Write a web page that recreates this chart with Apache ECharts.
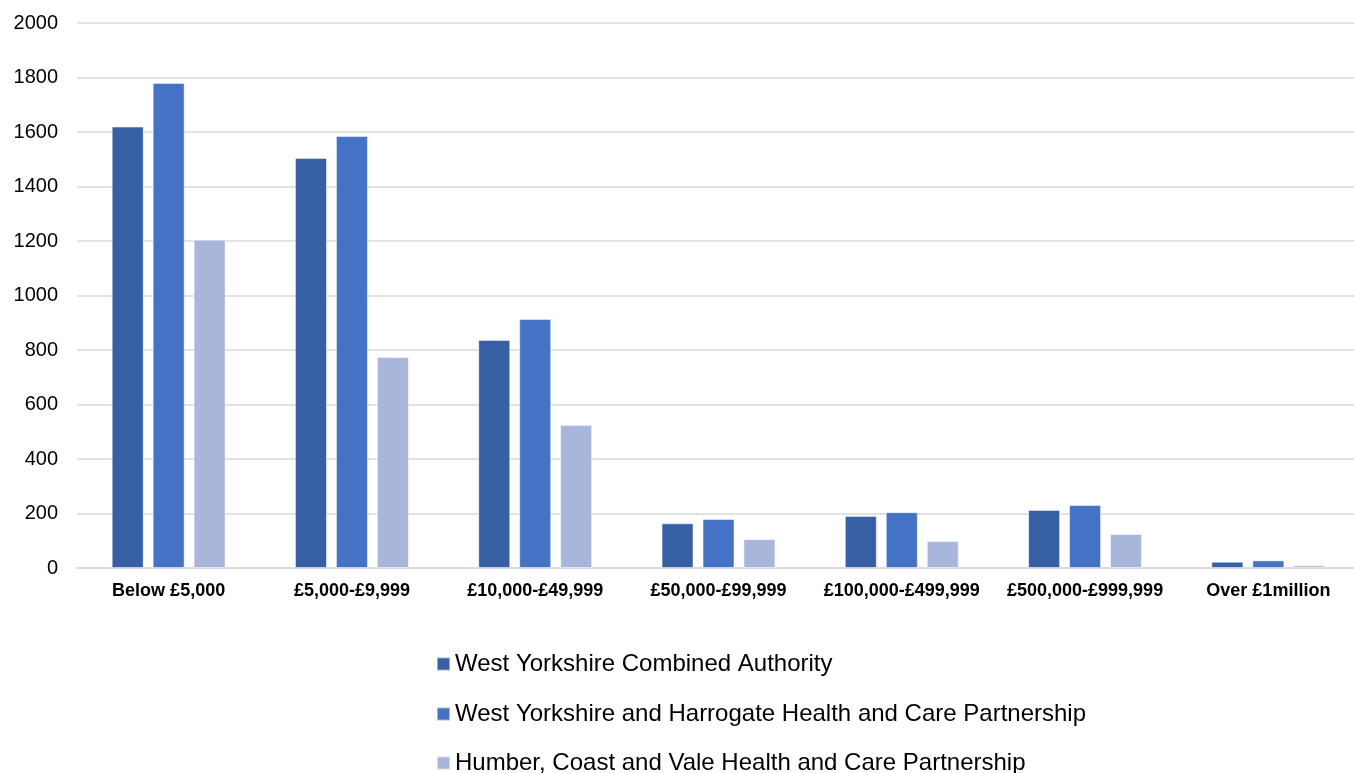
<!DOCTYPE html>
<html>
<head>
<meta charset="utf-8">
<script src="https://cdn.jsdelivr.net/npm/echarts@6/dist/echarts.min.js"></script>
<style>html,body{margin:0;padding:0;background:#fff;}#chart{width:1354px;height:773px;}</style>
</head>
<body>
<div id="chart"></div>
<script>
var categories = ['Below £5,000', '£5,000-£9,999', '£10,000-£49,999', '£50,000-£99,999', '£100,000-£499,999', '£500,000-£999,999', 'Over £1million'];
var seriesNames = ['West Yorkshire Combined Authority', 'West Yorkshire and Harrogate Health and Care Partnership', 'Humber, Coast and Vale Health and Care Partnership'];
var wyca = [1620, 1505, 837, 164, 191, 213, 23];
var wyh = [1780, 1585, 914, 180, 205, 231, 28];
var hcv = [1205, 774, 525, 106, 99, 125, 10];
var colors = ['#365FA4', '#4472C4', '#A9B6DB'];

var chart = echarts.init(document.getElementById('chart'));
function mk(name, data, color) {
  return {
    name: name, type: 'bar', data: data, barWidth: 32, barGap: '28%',
    itemStyle: { color: color, borderColor: 'rgba(255,255,255,0.5)', borderWidth: 1 }
  };
}
var legendTops = [647, 697, 746];
var legends = seriesNames.map(function (n, i) {
  return {
    orient: 'horizontal', left: 431, top: legendTops[i], itemWidth: 13, itemHeight: 13, itemGap: 0,
    icon: 'rect',
    textStyle: { fontSize: 24, color: '#000', fontFamily: 'Liberation Sans, Arial, sans-serif', padding: [0, 0, 0, 0] },
    data: [n]
  };
});
chart.setOption({
  animation: false,
  textStyle: { fontFamily: 'Liberation Sans, Arial, sans-serif' },
  grid: { left: 77, width: 1283, top: 23, bottom: 205, containLabel: false, outerBoundsMode: 'none' },
  legend: legends,
  xAxis: {
    type: 'category', data: categories,
    axisLine: { lineStyle: { color: '#d9d9d9', width: 1.5 } },
    axisTick: { show: false },
    axisLabel: { fontSize: 18, fontWeight: 'bold', color: '#000', margin: 14, interval: 0 }
  },
  yAxis: {
    type: 'value', min: 0, max: 2000, interval: 200,
    axisLine: { show: false }, axisTick: { show: false },
    splitLine: { lineStyle: { color: '#d9d9d9', width: 1.5 } },
    axisLabel: { fontSize: 20, color: '#000', margin: 19, formatter: function (v) { return String(v); } }
  },
  series: [mk(seriesNames[0], wyca, colors[0]), mk(seriesNames[1], wyh, colors[1]), mk(seriesNames[2], hcv, colors[2])]
});
</script>
</body>
</html>
